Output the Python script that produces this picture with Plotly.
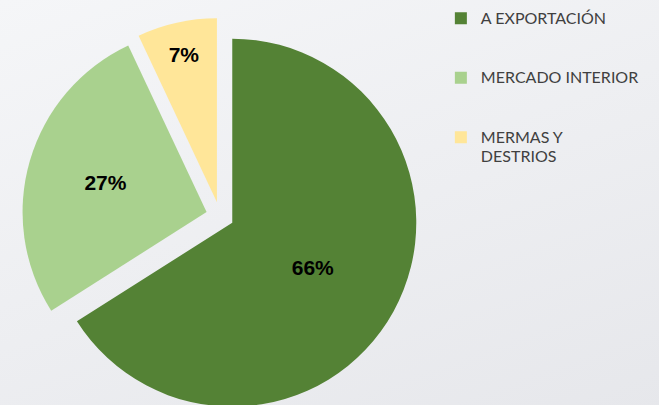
import plotly.graph_objects as go

# datos del grafico
categorias = ["A EXPORTACIÓN", "MERCADO INTERIOR", "MERMAS Y<br>DESTRIOS"]
valores = [66, 27, 7]
colores = ["#548235", "#A9D18E", "#FFE699"]

# texto de la leyenda un poco mayor que el interlineado base, y hueco extra bajo cada entrada
etiquetas = []
for c in categorias:
    txt = "<span style='font-size:16px'>" + c.replace("<br>", "</span><br><span style='font-size:16px'>") + "</span>"
    if "<br>" not in c:
        txt += "<br> <br> "
    etiquetas.append(txt)

fig = go.Figure(
    data=[
        go.Pie(
            labels=etiquetas,
            values=valores,
            sort=False,
            direction="clockwise",
            rotation=0,
            pull=[0.076, 0.076, 0.076],
            marker=dict(colors=colores),
            textinfo="percent",
            texttemplate="<b>%{percent:.0%}</b>",
            textposition="inside",
            insidetextorientation="horizontal",
            textfont=dict(family="Liberation Sans, Arial", size=21, color="black"),
            domain=dict(x=[0, 0.6677], y=[0, 1]),
            hoverinfo="label+percent",
        )
    ]
)

fig.update_layout(
    width=659,
    height=414,
    margin=dict(l=0, r=0, t=18, b=0),
    paper_bgcolor="rgba(0,0,0,0)",
    plot_bgcolor="rgba(0,0,0,0)",
    uniformtext=dict(minsize=21, mode="show"),
    legend=dict(
        x=0.669,
        y=1.0396,
        xanchor="left",
        yanchor="top",
        valign="top",
        font=dict(family="Lato, Liberation Sans", size=14.5, color="#404040"),
        bgcolor="rgba(0,0,0,0)",
        itemwidth=30,
    ),
)

# fondo degradado gris claro y sin margen del body (el grafico queda recortado abajo como en el original)
fondo = (
    "document.body.style.margin='0';"
    "document.documentElement.style.overflow='hidden';"
    "document.body.style.overflow='hidden';"
    "document.body.style.background='linear-gradient(160deg, #F5F6F8 0%, #E6E7EB 100%)';"
    "document.body.style.minHeight='405px';"
)

fig.write_html("out.html", post_script=fondo, config={"displayModeBar": False})
